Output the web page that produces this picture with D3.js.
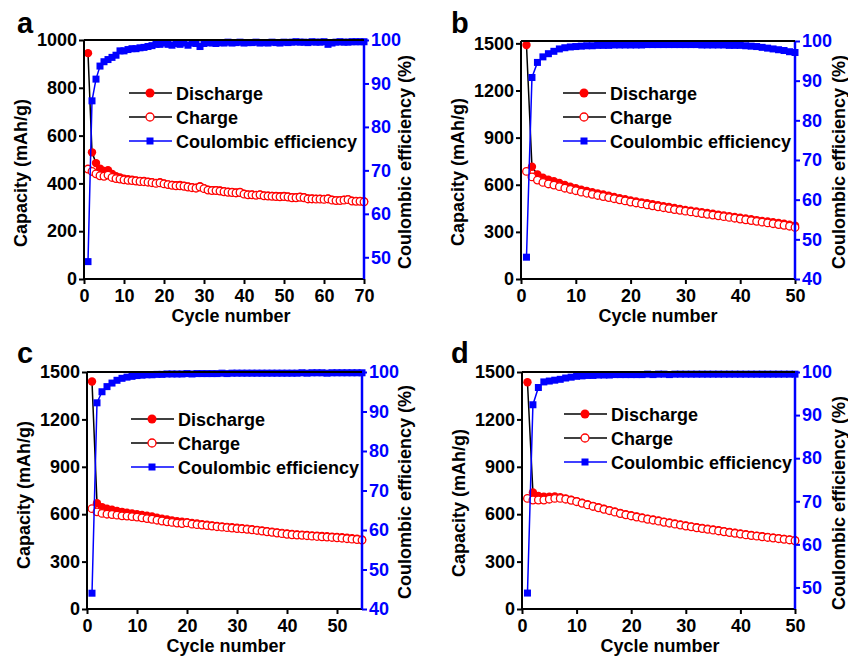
<!DOCTYPE html>
<meta charset="utf-8">
<head>
    <script type="text/javascript" src="https://cdn.jsdelivr.net/npm/d3@7"></script>
    <style>
        body { margin: 0; background: white; }
        text { font-family: "Liberation Sans", Arial, sans-serif; font-weight: bold; }
    </style>
    <title>Cycling performance</title>
</head>
<body>
<div id="chart"></div>
<script>
    var w = 848, h = 657;

    // panel a
    var dischargeA = [945, 530, 485, 462, 452, 455, 440, 430, 425, 420, 418, 415, 412, 410, 410, 407, 405, 402, 405, 400,
        396, 394, 392, 393, 390, 387, 384, 382, 388, 380, 374, 372, 372, 370, 367, 365, 364, 362, 364, 357,
        354, 354, 352, 354, 350, 349, 348, 347, 346, 348, 345, 342, 342, 344, 342, 337, 337, 336, 336, 335,
        337, 332, 330, 330, 332, 334, 328, 327, 327, 325];
    var chargeA = [460, 450, 440, 432, 430, 435, 425, 420, 418, 415, 413, 412, 410, 408, 407, 405, 403, 400, 402, 398,
        395, 392, 390, 390, 388, 385, 382, 380, 385, 378, 372, 370, 370, 368, 365, 363, 362, 360, 362, 355,
        352, 352, 350, 352, 348, 347, 346, 345, 344, 345, 343, 340, 340, 342, 340, 335, 335, 334, 334, 333,
        335, 330, 328, 328, 330, 332, 326, 325, 325, 323];
    var ceA = [49, 86, 91, 94, 95, 95.5, 96, 96.5, 97.5, 97.5, 97.8, 98, 98, 98.2, 98.3, 98.5, 98.7, 99, 99, 99.3,
        99, 98.8, 99.2, 99, 99.3, 98.8, 99.3, 99.2, 98.5, 99.2, 99.4, 99.3, 99.2, 99.4, 99.3, 99.5, 99.3, 99.4, 99.5, 99.3,
        99.4, 99.4, 99.5, 99.3, 99.4, 99.3, 99.5, 99.4, 99.3, 99.5, 99.4, 99.5, 99.6, 99.5, 99.5, 99.4, 99.6, 99.5, 99.5, 99.6,
        99, 99.3, 99.5, 99.6, 99.5, 99.5, 99.6, 99.6, 99.6, 99.6];

    // panel b
    var dischargeB = [1490, 715, 665, 645, 632, 622, 612, 598, 588, 578, 568, 560, 552, 545, 538, 530, 522, 515, 508, 500,
        494, 488, 482, 476, 470, 464, 458, 452, 446, 440, 435, 430, 425, 420, 415, 410, 405, 400, 395, 390,
        385, 380, 375, 370, 366, 362, 357, 352, 346, 340];
    var chargeB = [685, 650, 630, 615, 605, 598, 588, 578, 570, 562, 553, 546, 539, 532, 525, 518, 511, 504, 497, 490,
        484, 478, 472, 466, 460, 454, 448, 442, 437, 432, 427, 422, 417, 412, 407, 402, 397, 392, 387, 382,
        377, 372, 367, 362, 357, 352, 347, 342, 336, 328];
    var ceB = [45.5, 90.8, 94.6, 96, 96.8, 97.4, 98, 98.3, 98.5, 98.6, 98.7, 98.8, 98.8, 98.9, 98.9, 98.9, 99, 99, 99, 99,
        99, 99, 99.1, 99.1, 99.1, 99.1, 99.1, 99.1, 99.1, 99.1, 99.1, 99.1, 99, 99, 99, 99, 99, 98.9, 98.9, 98.9,
        98.8, 98.7, 98.6, 98.4, 98.2, 98, 97.8, 97.6, 97.3, 97.1];

    // panel c
    var dischargeC = [1440, 670, 645, 635, 628, 620, 615, 610, 605, 600, 595, 590, 585, 578, 572, 566, 560, 556, 552, 550,
        545, 541, 537, 533, 529, 526, 523, 520, 517, 514, 511, 508, 505, 501, 497, 493, 489, 485, 481, 478,
        475, 472, 470, 468, 466, 464, 462, 460, 458, 456, 454, 451, 448, 445, 440];
    var chargeC = [635, 615, 605, 600, 598, 594, 590, 588, 585, 582, 577, 572, 568, 562, 557, 552, 548, 544, 541, 545,
        537, 534, 531, 528, 525, 521, 518, 515, 512, 509, 507, 504, 501, 497, 493, 489, 485, 481, 477, 473,
        470, 468, 466, 464, 461, 459, 457, 455, 453, 451, 448, 445, 442, 440, 436];
    var ceC = [44, 92.2, 95, 96.3, 97.2, 97.9, 98.4, 98.7, 98.9, 99.1, 99.2, 99.3, 99.3, 99.4, 99.4, 99.5, 99.5, 99.5, 99.5, 99.6,
        99.5, 99.6, 99.6, 99.6, 99.6, 99.6, 99.7, 99.6, 99.7, 99.7, 99.7, 99.7, 99.7, 99.7, 99.7, 99.7, 99.7, 99.7, 99.7, 99.7,
        99.7, 99.7, 99.8, 99.7, 99.8, 99.8, 99.8, 99.7, 99.8, 99.8, 99.8, 99.8, 99.8, 99.8, 99.8];

    // panel d
    var dischargeD = [1435, 738, 715, 710, 710, 712, 708, 700, 692, 683, 673, 663, 653, 644, 635, 626, 617, 608, 600, 593,
        586, 579, 572, 566, 560, 553, 547, 541, 535, 529, 523, 518, 513, 508, 503, 498, 493, 488, 483, 478,
        473, 468, 464, 460, 456, 452, 448, 444, 440, 435];
    var chargeD = [700, 690, 690, 690, 695, 700, 700, 695, 688, 679, 669, 659, 649, 640, 631, 622, 613, 604, 596, 589,
        582, 575, 568, 562, 556, 549, 543, 537, 531, 525, 520, 514, 509, 504, 499, 494, 489, 484, 479, 474,
        469, 465, 461, 457, 453, 449, 445, 441, 437, 432];
    var ceD = [48.7, 92.4, 96.4, 97.7, 97.9, 98.1, 98.3, 98.6, 98.8, 99, 99.1, 99.2, 99.2, 99.3, 99.3, 99.3, 99.4, 99.4, 99.4, 99.4,
        99.4, 99.4, 99.5, 99.4, 99.5, 99.5, 99.4, 99.5, 99.5, 99.5, 99.5, 99.5, 99.5, 99.5, 99.5, 99.5, 99.5, 99.5, 99.5, 99.5,
        99.5, 99.5, 99.5, 99.5, 99.5, 99.5, 99.5, 99.5, 99.5, 99.5];

    var legendLabels = ["Discharge", "Charge", "Coulombic efficiency"];

    var panels = [
        {label: "a", discharge: dischargeA, charge: chargeA, ce: ceA,
         xMax: 70, xTicks: [0, 10, 20, 30, 40, 50, 60, 70],
         yMax: 1000, yTicks: [0, 200, 400, 600, 800, 1000],
         rMin: 45, rTicks: [50, 60, 70, 80, 90, 100],
         box: [84, 364, 40, 279], letter: [17, 33], legend: [129, 93], ylab: 173, rlab: [411, 162], xlab: 231},
        {label: "b", discharge: dischargeB, charge: chargeB, ce: ceB,
         xMax: 50, xTicks: [0, 10, 20, 30, 40, 50],
         yMax: 1515, yTicks: [0, 300, 600, 900, 1200, 1500],
         rMin: 40, rTicks: [40, 50, 60, 70, 80, 90, 100],
         box: [521, 795, 41, 279], letter: [451, 33], legend: [563, 93], ylab: 172, rlab: [845, 162], xlab: 658},
        {label: "c", discharge: dischargeC, charge: chargeC, ce: ceC,
         xMax: 55, xTicks: [0, 10, 20, 30, 40, 50],
         yMax: 1500, yTicks: [0, 300, 600, 900, 1200, 1500],
         rMin: 40, rTicks: [40, 50, 60, 70, 80, 90, 100],
         box: [87, 362, 372, 609], letter: [17, 363], legend: [131, 419], ylab: 495, rlab: [411, 492], xlab: 226},
        {label: "d", discharge: dischargeD, charge: chargeD, ce: ceD,
         xMax: 50, xTicks: [0, 10, 20, 30, 40, 50],
         yMax: 1500, yTicks: [0, 300, 600, 900, 1200, 1500],
         rMin: 45, rTicks: [50, 60, 70, 80, 90, 100],
         box: [522, 795, 372, 609], letter: [451, 363], legend: [564, 414], ylab: 503, rlab: [845, 503], xlab: 660}
    ];

    var FONT = '"Liberation Sans", Arial, sans-serif';
    var FS = 18;

    var svg = d3.select("#chart").append("svg")
        .attr("width", w).attr("height", h);

    panels.forEach(drawPanel);

    function drawPanel(p) {
        var L = p.box[0], R = p.box[1], T = p.box[2], B = p.box[3];
        var x = d3.scaleLinear().domain([0, p.xMax]).range([L, R]);
        var y = d3.scaleLinear().domain([0, p.yMax]).range([B, T]);
        var yr = d3.scaleLinear().domain([p.rMin, 100]).range([B, T]);
        var g = svg.append("g");

        // capacity curves
        var line = d3.line().x((d, i) => x(i + 1)).y(d => y(d));
        var lineR = d3.line().x((d, i) => x(i + 1)).y(d => yr(d));

        g.append("path").attr("d", line(p.discharge))
            .attr("fill", "none").attr("stroke", "black").attr("stroke-width", 1.5);
        g.selectAll(".dis").data(p.discharge).enter().append("circle")
            .attr("cx", (d, i) => x(i + 1)).attr("cy", d => y(d)).attr("r", 4.2)
            .attr("fill", "#f00");
        g.append("path").attr("d", line(p.charge))
            .attr("fill", "none").attr("stroke", "black").attr("stroke-width", 1);
        g.selectAll(".chg").data(p.charge).enter().append("circle")
            .attr("cx", (d, i) => x(i + 1)).attr("cy", d => y(d)).attr("r", 3.8)
            .attr("fill", "white").attr("stroke", "#f00").attr("stroke-width", 1.3);

        // coulombic efficiency
        g.append("path").attr("d", lineR(p.ce))
            .attr("fill", "none").attr("stroke", "#00f").attr("stroke-width", 1.5);
        g.selectAll(".ce").data(p.ce).enter().append("rect")
            .attr("x", (d, i) => x(i + 1) - 3.5).attr("y", d => yr(d) - 3.5)
            .attr("width", 7).attr("height", 7).attr("fill", "#00f");

        // axes
        var fmt = d3.format("d");
        var ax = g.append("g").attr("transform", "translate(0," + B + ")")
            .call(d3.axisBottom(x).tickValues(p.xTicks).tickFormat(fmt).tickSize(5).tickPadding(5));
        var ay = g.append("g").attr("transform", "translate(" + L + ",0)")
            .call(d3.axisLeft(y).tickValues(p.yTicks).tickFormat(fmt).tickSize(5).tickPadding(2));
        var ar = g.append("g").attr("transform", "translate(" + R + ",0)")
            .call(d3.axisRight(yr).tickValues(p.rTicks).tickFormat(fmt).tickSize(5).tickPadding(2));
        [ax, ay].forEach(a => {
            a.select(".domain").attr("stroke-width", 2).attr("d",
                a === ax ? "M" + L + ",0H" + R : "M0," + B + "V" + T);
            a.selectAll(".tick line").attr("stroke-width", 2);
            a.selectAll("text").attr("font-size", FS).attr("fill", "black")
                .style("font-family", FONT).style("font-weight", "bold");
        });
        ar.select(".domain").attr("stroke", "#00f").attr("stroke-width", 2.5).attr("d", "M0," + B + "V" + T);
        ar.selectAll(".tick line").attr("stroke", "#00f").attr("stroke-width", 2);
        ar.selectAll("text").attr("font-size", FS).attr("fill", "#00f")
            .style("font-family", FONT).style("font-weight", "bold");

        // top frame
        g.append("line").attr("x1", L).attr("x2", R).attr("y1", T).attr("y2", T)
            .attr("stroke", "black").attr("stroke-width", 2);

        // axis titles
        g.append("text").attr("x", p.xlab).attr("y", B + 43).attr("text-anchor", "middle")
            .attr("font-size", FS).text("Cycle number");
        g.append("text").attr("transform", "translate(" + (L - 57) + "," + p.ylab + ") rotate(-90)")
            .attr("text-anchor", "middle").attr("font-size", FS).text("Capacity (mAh/g)");
        g.append("text").attr("transform", "translate(" + p.rlab[0] + "," + p.rlab[1] + ") rotate(-90)")
            .attr("text-anchor", "middle").attr("font-size", FS).text("Coulombic efficiency (%)");

        // panel letter
        g.append("text").attr("x", p.letter[0]).attr("y", p.letter[1])
            .attr("font-size", 29).text(p.label);

        // legend
        var lx = p.legend[0], ly = p.legend[1];
        legendLabels.forEach((t, i) => {
            var yy = ly + i * 24;
            g.append("line").attr("x1", lx).attr("x2", lx + 43).attr("y1", yy).attr("y2", yy)
                .attr("stroke", i === 2 ? "#00f" : "black").attr("stroke-width", 1.5);
            if (i === 0) {
                g.append("circle").attr("cx", lx + 21).attr("cy", yy).attr("r", 4.5).attr("fill", "#f00");
            } else if (i === 1) {
                g.append("circle").attr("cx", lx + 21).attr("cy", yy).attr("r", 4)
                    .attr("fill", "white").attr("stroke", "#f00").attr("stroke-width", 1.3);
            } else {
                g.append("rect").attr("x", lx + 17.5).attr("y", yy - 3.5).attr("width", 7).attr("height", 7)
                    .attr("fill", "#00f");
            }
            g.append("text").attr("x", lx + 47).attr("y", yy + 6.5).attr("font-size", FS).text(t);
        });
    }
</script>
</body>
</html>
